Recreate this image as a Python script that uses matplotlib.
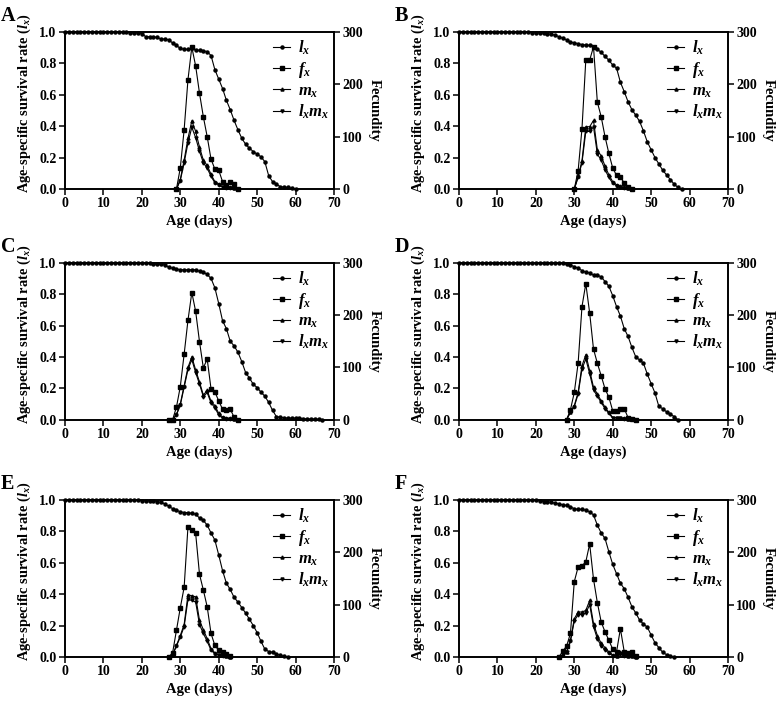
import matplotlib
matplotlib.use("Agg")
import matplotlib.pyplot as plt

plt.rcParams['font.family'] = ['Liberation Serif', 'DejaVu Serif']
plt.rcParams['font.weight'] = 'bold'
plt.rcParams['mathtext.fontset'] = 'custom'
plt.rcParams['mathtext.rm'] = 'Liberation Serif:bold'
plt.rcParams['mathtext.it'] = 'Liberation Serif:italic:bold'
plt.rcParams['mathtext.bf'] = 'Liberation Serif:bold'

panels = ['A', 'B', 'C', 'D', 'E', 'F']

# ---- age-specific survival rate lx (day 0 onward) ----
lx_A = [1.0]*17 + [0.995, 0.995, 0.995, 0.99, 0.97, 0.97, 0.97, 0.965, 0.955, 0.955, 0.95, 0.93, 0.915,
        0.895, 0.89, 0.89, 0.895, 0.885, 0.883, 0.88, 0.875, 0.85, 0.76, 0.70, 0.64, 0.565, 0.505,
        0.437, 0.377, 0.323, 0.285, 0.26, 0.238, 0.222, 0.205, 0.174, 0.085, 0.047, 0.032, 0.015,
        0.012, 0.01, 0.005, 0.0]
lx_B = [1.0]*19 + [0.995, 0.995, 0.995, 0.993, 0.99, 0.985, 0.98, 0.97, 0.96, 0.95, 0.935, 0.932, 0.925,
        0.92, 0.917, 0.915, 0.905, 0.89, 0.87, 0.845, 0.82, 0.79, 0.77, 0.68, 0.62, 0.555, 0.505,
        0.47, 0.43, 0.37, 0.30, 0.25, 0.20, 0.16, 0.12, 0.09, 0.06, 0.03, 0.01, 0.0]
lx_C = [1.0]*20 + [0.995, 0.995, 0.995, 0.99, 0.99, 0.99, 0.985, 0.97, 0.965, 0.96, 0.955, 0.955, 0.955,
        0.955, 0.955, 0.945, 0.94, 0.925, 0.90, 0.84, 0.74, 0.63, 0.58, 0.50, 0.47, 0.43, 0.37,
        0.30, 0.265, 0.225, 0.205, 0.175, 0.15, 0.11, 0.06, 0.02, 0.015, 0.012, 0.01, 0.01, 0.01,
        0.01, 0.007, 0.005, 0.005, 0.005, 0.003, 0.0]
lx_D = [1.0]*15 + [0.995]*13 + [0.99, 0.985, 0.975, 0.965, 0.95, 0.94, 0.935, 0.92, 0.92, 0.91, 0.88,
        0.85, 0.79, 0.72, 0.66, 0.58, 0.53, 0.46, 0.40, 0.38, 0.36, 0.29, 0.23, 0.17, 0.085, 0.07,
        0.05, 0.035, 0.02, 0.0]
lx_E = [1.0]*20 + [0.995]*4 + [0.99, 0.985, 0.975, 0.96, 0.945, 0.935, 0.925, 0.92, 0.92, 0.915, 0.91,
        0.885, 0.87, 0.84, 0.79, 0.745, 0.65, 0.55, 0.47, 0.43, 0.38, 0.35, 0.315, 0.28, 0.24, 0.20,
        0.155, 0.10, 0.05, 0.035, 0.03, 0.02, 0.01, 0.005, 0.0]
lx_F = [1.0]*21 + [0.995, 0.99, 0.99, 0.985, 0.98, 0.975, 0.97, 0.965, 0.955, 0.945, 0.94, 0.94, 0.935,
        0.925, 0.905, 0.84, 0.79, 0.755, 0.67, 0.59, 0.53, 0.47, 0.435, 0.38, 0.32, 0.28, 0.235,
        0.21, 0.19, 0.14, 0.09, 0.06, 0.03, 0.015, 0.005, 0.0]

# ---- first reproductive day for each panel ----
start_A, start_B, start_C, start_D, start_E, start_F = 29, 30, 27, 28, 27, 26

# ---- age-stage specific fecundity fx ----
fx_A = [0, 40, 113, 209, 271, 235, 183, 138, 100, 57, 38, 36, 14, 8, 13, 9, 0]
fx_B = [0, 35, 115, 247, 246, 272, 166, 138, 100, 68, 40, 26, 22, 12, 3, 0]
fx_C = [0, 0, 24, 63, 125, 190, 243, 207, 149, 99, 116, 59, 53, 36, 20, 19, 20, 5, 0]
fx_D = [0, 19, 52, 108, 216, 260, 204, 135, 108, 84, 59, 43, 17, 17, 21, 21, 4, 1, 0]
fx_E = [0, 8, 51, 94, 133, 249, 243, 236, 158, 128, 96, 45, 22, 13, 9, 6, 1]
fx_F = [0, 11, 21, 45, 144, 172, 174, 182, 216, 149, 104, 67, 48, 32, 15, 10, 54, 10, 8, 10, 1]

# ---- age-specific fecundity mx ----
mx_A = [0, 18, 55, 97, 130, 110, 80, 55, 45, 28, 14, 10, 4, 3, 4, 2, 0]
mx_B = [0, 24, 54, 119, 119, 131, 75, 63, 44, 27, 14, 8, 5, 3, 1, 0]
mx_C = [0, 0, 10, 30, 65, 100, 120, 95, 72, 47, 56, 35, 27, 12, 5, 3, 3, 2, 0]
mx_D = [0, 15, 27, 52, 103, 124, 94, 62, 49, 36, 24, 14, 4, 4, 4, 3, 2, 1, 0]
mx_E = [0, 4, 22, 41, 62, 119, 117, 115, 70, 52, 35, 16, 8, 4, 3, 1, 0]
mx_F = [0, 3, 10, 32, 73, 86, 86, 89, 108, 64, 41, 26, 18, 10, 4, 2, 10, 3, 2, 2, 0]

# ---- age-specific maternity lxmx ----
lxmx_A = [0, 16, 50, 88, 118, 98, 72, 50, 40, 24, 12, 8, 3, 2, 2, 1, 0]
lxmx_B = [0, 22, 50, 110, 110, 119, 67, 55, 37, 22, 11, 6, 4, 2, 1, 0]
lxmx_C = [0, 0, 9, 28, 62, 96, 115, 90, 68, 44, 52, 32, 23, 9, 3, 2, 2, 1, 0]
lxmx_D = [0, 14, 25, 49, 97, 116, 88, 57, 45, 33, 21, 12, 3, 3, 3, 2, 1, 0.5, 0]
lxmx_E = [0, 4, 21, 38, 58, 110, 108, 105, 62, 45, 30, 13, 6, 3, 2, 1, 0]
lxmx_F = [0, 3, 9, 30, 69, 81, 81, 84, 100, 58, 35, 21, 14, 7, 2.5, 1, 5, 1.5, 1, 1, 0]

lx_all = [lx_A, lx_B, lx_C, lx_D, lx_E, lx_F]
starts = [start_A, start_B, start_C, start_D, start_E, start_F]
fx_all = [fx_A, fx_B, fx_C, fx_D, fx_E, fx_F]
mx_all = [mx_A, mx_B, mx_C, mx_D, mx_E, mx_F]
lxmx_all = [lxmx_A, lxmx_B, lxmx_C, lxmx_D, lxmx_E, lxmx_F]

x_ticks = [0, 10, 20, 30, 40, 50, 60, 70]
left_ticks = [0.0, 0.2, 0.4, 0.6, 0.8, 1.0]
right_ticks = [0, 100, 200, 300]

W, H = 779, 703
fig = plt.figure(figsize=(W/100, H/100), dpi=100)

lefts = [65, 459]
tops = [32, 262.7, 500]
aw, ah = 269, 157

lw = 0.8
fs_tick = 10
fs_xlab = 10.5
fs_ylab = 10.4

for i, name in enumerate(panels):
    r, c = divmod(i, 2)
    l = lefts[c]
    t = tops[r]
    ax = fig.add_axes([l/W, 1 - (t+ah)/H, aw/W, ah/H])
    ax2 = ax.twinx()
    days = list(range(len(lx_all[i])))
    rd = list(range(starts[i], starts[i] + len(fx_all[i])))
    h1, = ax.plot(days, lx_all[i], '-o', color='black', lw=lw, ms=2.2, clip_on=False, zorder=3)
    h2, = ax2.plot(rd, fx_all[i], '-s', color='black', lw=lw, ms=2.4, clip_on=False)
    h3, = ax2.plot(rd, mx_all[i], '-^', color='black', lw=lw, ms=2.2, clip_on=False)
    h4, = ax2.plot(rd, lxmx_all[i], '-v', color='black', lw=lw, ms=2.2, clip_on=False)

    ax.set_xlim(0, 70)
    ax.set_ylim(0, 1.0)
    ax2.set_ylim(0, 300)
    ax.set_xticks(x_ticks)
    ax.set_yticks(left_ticks)
    ax.set_yticklabels([f'{v:.1f}' for v in left_ticks])
    ax2.set_yticks(right_ticks)
    for a in (ax, ax2):
        for s in a.spines.values():
            s.set_linewidth(1.2)
        a.tick_params(direction='out', length=4, width=1.1, labelsize=fs_tick, pad=2)
    ax.set_xlabel('Age (days)', fontsize=fs_xlab, fontweight='bold', labelpad=3)
    ax.set_ylabel(r'Age-specific survival rate ($l_x$)', fontsize=fs_ylab, fontweight='bold')
    ax.yaxis.set_label_coords(-0.118, 0.545)
    ax2.set_ylabel('Fecundity', fontsize=fs_xlab, fontweight='bold', rotation=270, labelpad=13)
    for lab in ax.get_xticklabels() + ax.get_yticklabels() + ax2.get_yticklabels():
        lab.set_fontweight('bold')

    leg = ax2.legend([h1, h2, h3, h4], [r'$l_x$', r'$f_x$', r'$m_x$', r'$l_xm_x$'],
                     loc='upper left', bbox_to_anchor=(0.775, 0.955), frameon=False,
                     fontsize=12, handlelength=1.0, handletextpad=0.5, labelspacing=0.17,
                     borderaxespad=0, borderpad=0)

    fig.text((l - 64)/W, 1 - (t - 26)/H, name, fontsize=14.5, fontweight='bold', va='top', ha='left')

fig.savefig('out.png', dpi=100)
